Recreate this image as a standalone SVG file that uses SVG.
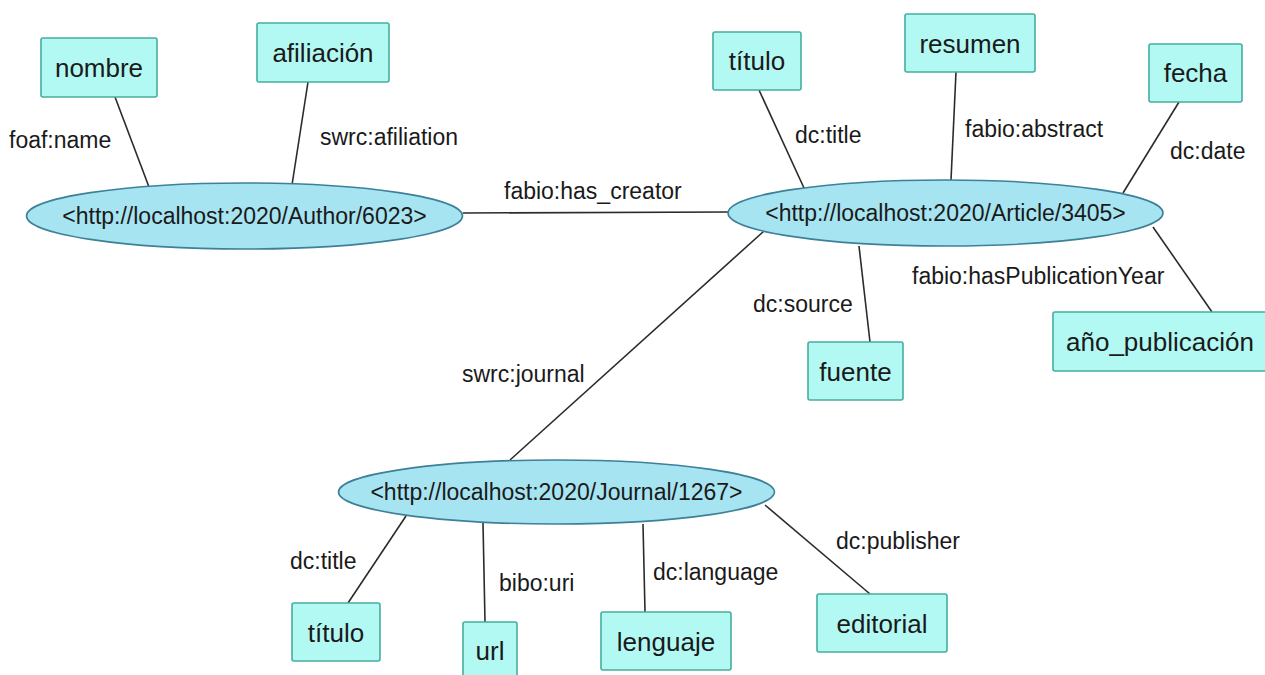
<svg xmlns="http://www.w3.org/2000/svg" width="1265" height="675" viewBox="0 0 1265 675">
<style>
.box{fill:#b3f9f3;stroke:#45ae9f;stroke-width:1.6}
.ell{fill:#a6e4f1;stroke:#3d8098;stroke-width:1.6}
.edge{stroke:#2b2b2b;stroke-width:1.6;fill:none}
.nt{font-family:"Liberation Sans",Arial,sans-serif;font-size:26px;fill:#1a1a1a;text-anchor:middle}
.et{font-family:"Liberation Sans",Arial,sans-serif;font-size:23px;fill:#1a1a1a;text-anchor:middle}
.lb{font-family:"Liberation Sans",Arial,sans-serif;font-size:23px;fill:#1a1a1a}
</style>
<rect width="1265" height="675" fill="#ffffff"/>
<g id="connectors">
<line class="edge" x1="115" y1="97" x2="149" y2="187"/>
<line class="edge" x1="308" y1="82" x2="292" y2="185"/>
<line class="edge" x1="463" y1="213" x2="728" y2="212"/>
<line class="edge" x1="759" y1="90" x2="804" y2="188"/>
<line class="edge" x1="956" y1="72" x2="951" y2="180"/>
<line class="edge" x1="1179" y1="102" x2="1123" y2="193"/>
<line class="edge" x1="1153" y1="227" x2="1212" y2="312"/>
<line class="edge" x1="859" y1="246" x2="870" y2="342"/>
<line class="edge" x1="764" y1="231" x2="510" y2="460"/>
<line class="edge" x1="406" y1="516" x2="348" y2="603"/>
<line class="edge" x1="483" y1="523" x2="485" y2="622"/>
<line class="edge" x1="643" y1="524" x2="645" y2="612"/>
<line class="edge" x1="765" y1="505" x2="870" y2="594"/>
<text class="lb" x="9" y="148">foaf:name</text>
<text class="lb" x="320" y="145">swrc:afiliation</text>
<text class="lb" x="504" y="199">fabio:has_creator</text>
<text class="lb" x="795" y="143">dc:title</text>
<text class="lb" x="965" y="137">fabio:abstract</text>
<text class="lb" x="1170" y="159">dc:date</text>
<text class="lb" x="912" y="284">fabio:hasPublicationYear</text>
<text class="lb" x="753" y="312">dc:source</text>
<text class="lb" x="462" y="382">swrc:journal</text>
<text class="lb" x="290" y="569">dc:title</text>
<text class="lb" x="499" y="591">bibo:uri</text>
<text class="lb" x="653" y="580">dc:language</text>
<text class="lb" x="836" y="549">dc:publisher</text>
</g>
<g id="author">
<ellipse class="ell" cx="244.5" cy="216" rx="218" ry="33"/>
<text class="et" x="244.5" y="224">&lt;http://localhost:2020/Author/6023&gt;</text>
</g>
<g id="article">
<ellipse class="ell" cx="945.5" cy="213" rx="217.5" ry="33"/>
<text class="et" x="945.5" y="221">&lt;http://localhost:2020/Article/3405&gt;</text>
</g>
<g id="journal">
<ellipse class="ell" cx="556.5" cy="492" rx="218" ry="32"/>
<text class="et" x="556.5" y="500">&lt;http://localhost:2020/Journal/1267&gt;</text>
</g>
<g id="nombre">
<rect class="box" x="41" y="38" width="116" height="59" rx="2"/>
<text class="nt" x="99" y="77">nombre</text>
</g>
<g id="afiliacion">
<rect class="box" x="257" y="23" width="132" height="59" rx="2"/>
<text class="nt" x="323" y="62">afiliación</text>
</g>
<g id="titulo-article">
<rect class="box" x="713" y="32" width="88" height="58" rx="2"/>
<text class="nt" x="757" y="70">título</text>
</g>
<g id="resumen">
<rect class="box" x="905" y="14" width="130" height="58" rx="2"/>
<text class="nt" x="970" y="53">resumen</text>
</g>
<g id="fecha">
<rect class="box" x="1149" y="44" width="93" height="58" rx="2"/>
<text class="nt" x="1195.5" y="82">fecha</text>
</g>
<g id="anio-publicacion">
<rect class="box" x="1053" y="312" width="215" height="59" rx="2"/>
<text class="nt" x="1066" y="351" style="text-anchor:start">año_publicación</text>
</g>
<g id="fuente">
<rect class="box" x="808" y="342" width="95" height="58" rx="2"/>
<text class="nt" x="855.5" y="381">fuente</text>
</g>
<g id="titulo-journal">
<rect class="box" x="292" y="603" width="88" height="58" rx="2"/>
<text class="nt" x="336" y="642">título</text>
</g>
<g id="url">
<rect class="box" x="463" y="622" width="54" height="60" rx="2"/>
<text class="nt" x="490" y="660">url</text>
</g>
<g id="lenguaje">
<rect class="box" x="601" y="612" width="130" height="58" rx="2"/>
<text class="nt" x="666" y="651">lenguaje</text>
</g>
<g id="editorial">
<rect class="box" x="817" y="594" width="130" height="58" rx="2"/>
<text class="nt" x="882" y="633">editorial</text>
</g>
</svg>
